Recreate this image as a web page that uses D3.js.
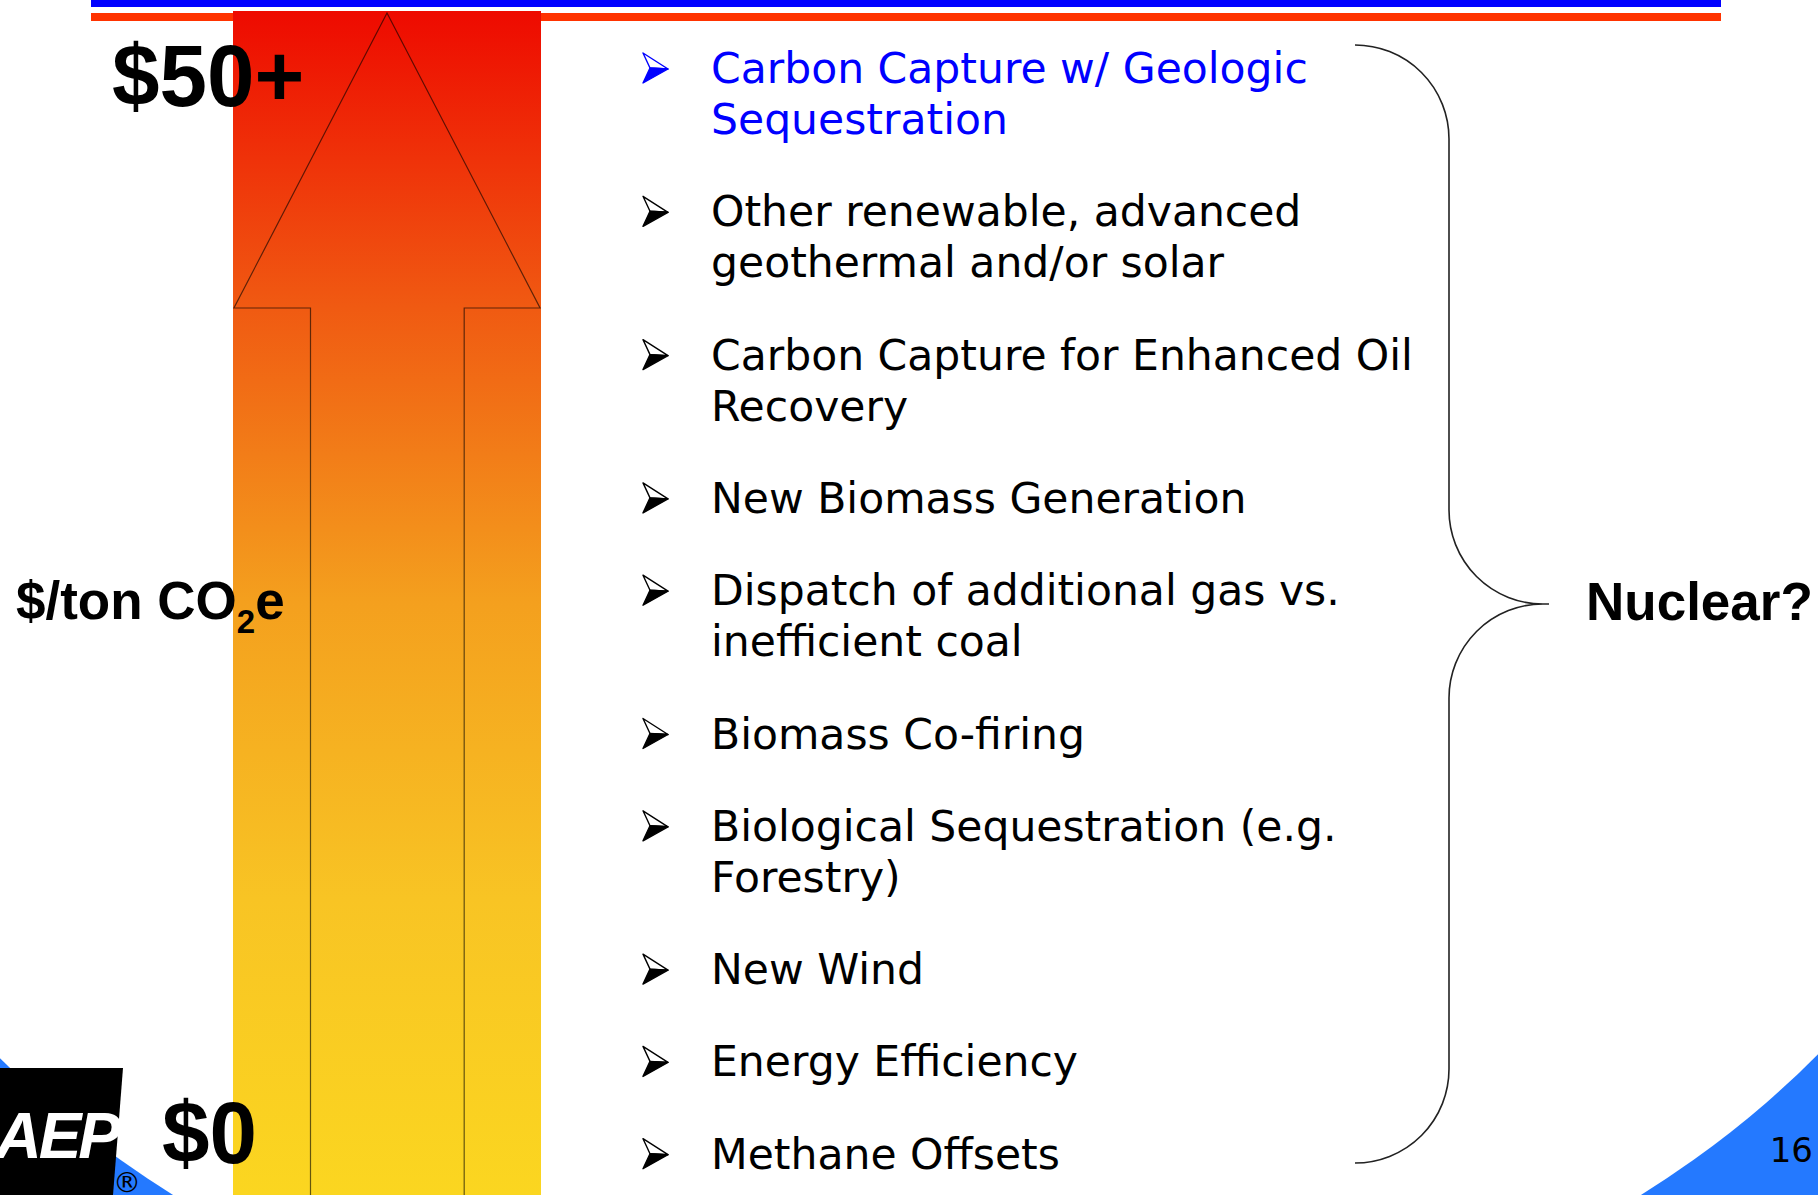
<!DOCTYPE html>
<html>
<head>
  <meta charset="utf-8">
  <style>
    body { margin: 0; background: #ffffff; }
    svg { display: block; }
    .cost { font-family: "Liberation Sans", Arial, sans-serif; font-weight: bold; }
    .item { font-family: "DejaVu Sans", Verdana, sans-serif; font-size: 42.5px; }
  </style>
</head>
<body>
  <script src="https://d3js.org/d3.v7.min.js"></script>
  <div id="chart"></div>
  <script>
    // cost axis: only the two ends are labelled
    var costValues = [0, 50];
    var costLabels = ["$0", "$50+"];
    var axisTitle = "$/ton CO";
    var sideLabel = "Nuclear?";
    var pageNumber = "16";

    // abatement options, cheapest at the bottom
    var items = [
      ["Carbon Capture w/ Geologic", "Sequestration"],
      ["Other renewable, advanced", "geothermal and/or solar"],
      ["Carbon Capture for Enhanced Oil", "Recovery"],
      ["New Biomass Generation"],
      ["Dispatch of additional gas vs.", "inefficient coal"],
      ["Biomass Co-firing"],
      ["Biological Sequestration (e.g.", "Forestry)"],
      ["New Wind"],
      ["Energy Efficiency"],
      ["Methane Offsets"]
    ];
    var itemColors = ["#0000ff", "#000000", "#000000", "#000000", "#000000",
                      "#000000", "#000000", "#000000", "#000000", "#000000"];

    var width = 1818, height = 1195;

    var svg = d3.select("#chart").append("svg")
      .attr("width", width)
      .attr("height", height);

    // slide background: blue corners under a white ellipse
    svg.append("rect").attr("x", 0).attr("y", 900).attr("width", width).attr("height", height - 900)
      .attr("fill", "#2479ff");
    svg.append("ellipse").attr("cx", 907).attr("cy", 600).attr("rx", 1112).attr("ry", 792)
      .attr("fill", "#ffffff");

    // header rules
    svg.append("rect").attr("x", 91).attr("y", 0).attr("width", 1630).attr("height", 7).attr("fill", "#0000ff");
    svg.append("rect").attr("x", 91).attr("y", 13).attr("width", 1630).attr("height", 8).attr("fill", "#ff3300");

    // gradient column
    var defs = svg.append("defs");
    var grad = defs.append("linearGradient").attr("id", "heat")
      .attr("x1", 0).attr("y1", 0).attr("x2", 0).attr("y2", 1);
    [[0, "#ee0a00"], [0.25, "#f05a12"], [0.5, "#f4a01e"], [0.75, "#f8c424"], [1, "#fbd620"]]
      .forEach(function(s) {
        grad.append("stop").attr("offset", s[0]).attr("stop-color", s[1]);
      });

    var colX = d3.scaleLinear().domain([0, 1]).range([233, 541]);
    svg.append("rect")
      .attr("x", colX(0)).attr("y", 11)
      .attr("width", colX(1) - colX(0)).attr("height", height - 11)
      .attr("fill", "url(#heat)");

    // arrow outline over the column
    var tipY = 13, headY = 308;
    var arrow = d3.path();
    arrow.moveTo(colX(0.25) + 0.5, height + 2);
    arrow.lineTo(colX(0.25) + 0.5, headY);
    arrow.lineTo(colX(0.003), headY);
    arrow.lineTo(colX(0.5), tipY);
    arrow.lineTo(colX(0.997), headY);
    arrow.lineTo(colX(0.749) + 0.5, headY);
    arrow.lineTo(colX(0.749) + 0.5, height + 2);
    svg.append("path").attr("d", arrow.toString())
      .attr("fill", "none").attr("stroke", "#000").attr("stroke-opacity", 0.6).attr("stroke-width", 1.2);

    // cost labels
    var costY = d3.scaleLinear().domain([0, 50]).range([1163, 106]);
    var costX = d3.scaleOrdinal().domain(costValues).range([162, 112]);
    svg.selectAll("text.cost")
      .data(costValues)
      .enter().append("text")
      .attr("class", "cost")
      .attr("transform", function(d) { return "translate(" + costX(d) + "," + costY(d) + ") scale(0.97,1)"; })
      .attr("font-size", 88)
      .text(function(d, i) { return costLabels[i]; });

    // axis title with subscript
    var title = svg.append("text").attr("class", "cost")
      .attr("x", 16).attr("y", 619).attr("font-size", 53);
    title.append("tspan").text(axisTitle);
    title.append("tspan").attr("font-size", 33).attr("dy", 14).text("2");
    title.append("tspan").attr("dy", -14).text("e");

    // AEP logo
    svg.append("path")
      .attr("d", "M0,1068L123,1068L113,1195L0,1195Z")
      .attr("fill", "#000");
    svg.append("text")
      .attr("x", 118).attr("y", 1158)
      .attr("text-anchor", "end")
      .attr("font-family", "Liberation Sans, Arial, sans-serif")
      .attr("font-weight", "bold").attr("font-style", "italic")
      .attr("font-size", 64).attr("letter-spacing", -3)
      .attr("fill", "#fff")
      .text("AEP");
    svg.append("text")
      .attr("x", 127).attr("y", 1192)
      .attr("text-anchor", "middle")
      .attr("font-family", "DejaVu Sans, sans-serif")
      .attr("font-size", 28)
      .text("\u00ae");

    // bullet list
    var lineH = 51, gap = 92.3, y0 = 83;
    var itemY = [];
    var cur = y0;
    items.forEach(function(lines) {
      itemY.push(cur);
      cur += (lines.length - 1) * lineH + gap;
    });

    var rows = svg.selectAll("g.row")
      .data(items)
      .enter().append("g")
      .attr("class", "row")
      .attr("transform", function(d, i) { return "translate(0," + itemY[i] + ")"; });

    // arrowhead bullet, upper half open, lower half filled
    rows.append("path")
      .attr("d", "M643,-30L668,-14L650,-15Z")
      .attr("fill", "#fff")
      .attr("stroke", function(d, i) { return itemColors[i]; })
      .attr("stroke-width", 1.4)
      .attr("stroke-linejoin", "round");
    rows.append("path")
      .attr("d", "M650,-15L668,-14L643,0Z")
      .attr("fill", function(d, i) { return itemColors[i]; })
      .attr("stroke", function(d, i) { return itemColors[i]; })
      .attr("stroke-width", 1.4)
      .attr("stroke-linejoin", "round");

    rows.each(function(lines, i) {
      d3.select(this).selectAll("text")
        .data(lines)
        .enter().append("text")
        .attr("class", "item")
        .attr("x", 711)
        .attr("y", function(d, j) { return j * lineH; })
        .attr("fill", itemColors[i])
        .text(function(d) { return d; });
    });

    // brace grouping everything
    svg.append("path")
      .attr("d", "M1355,45A94,94 0 0 1 1449,139L1449,510A94,94 0 0 0 1543,604L1549,604" +
                 "M1543,604A94,94 0 0 0 1449,698L1449,1069A94,94 0 0 1 1355,1163")
      .attr("fill", "none")
      .attr("stroke", "#222")
      .attr("stroke-width", 1.6);

    svg.append("text").attr("class", "cost")
      .attr("x", 1586).attr("y", 620).attr("font-size", 53)
      .text(sideLabel);

    svg.append("text")
      .attr("x", 1813).attr("y", 1162)
      .attr("text-anchor", "end")
      .attr("font-family", "DejaVu Sans, sans-serif")
      .attr("font-size", 34)
      .text(pageNumber);
  </script>
</body>
</html>
